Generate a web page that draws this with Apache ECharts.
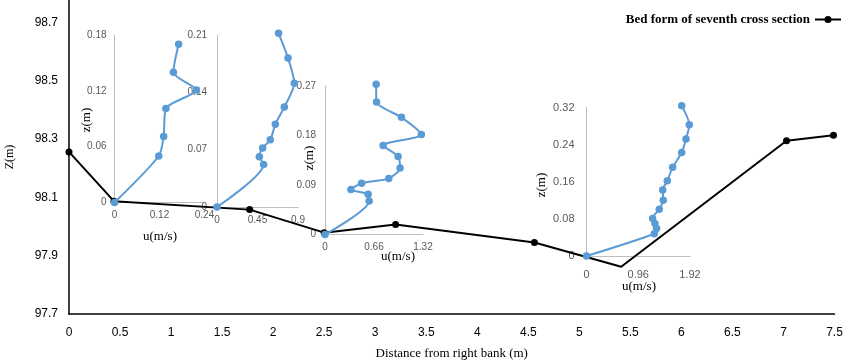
<!DOCTYPE html>
<html>
<head>
<meta charset="utf-8">
<script src="https://cdn.jsdelivr.net/npm/echarts@6/dist/echarts.min.js"></script>
<style>
  html, body { margin: 0; padding: 0; background: #fff; }
  #chart { width: 856px; height: 362px; }
</style>
</head>
<body>
<div id="chart"></div>
<script>
// bed form of the cross section (distance from right bank, elevation)
var bedX = [0, 0.44, 1.77, 2.5, 3.2, 4.56, 5.41, 7.03, 7.49];
var bedZ = [98.256, 98.087, 98.058, 97.979, 98.007, 97.945, 97.862, 98.294, 98.313];
var bedMark = [1, 1, 1, 1, 1, 1, 0, 1, 1];

// velocity profiles u(m/s) vs z(m)
var u1 = [0, 0.118, 0.131, 0.137, 0.218, 0.157, 0.171];
var z1 = [0, 0.050, 0.071, 0.101, 0.121, 0.140, 0.170];
var u2 = [0, 0.518, 0.47, 0.507, 0.592, 0.648, 0.748, 0.859, 0.789, 0.684];
var z2 = [0, 0.052, 0.0615, 0.072, 0.082, 0.101, 0.122, 0.151, 0.182, 0.212];
var u3 = [0, 0.595, 0.581, 0.349, 0.493, 0.859, 1.011, 0.984, 0.783, 1.298, 1.03, 0.694, 0.689];
var z3 = [0, 0.061, 0.073, 0.082, 0.093, 0.102, 0.121, 0.142, 0.162, 0.182, 0.213, 0.241, 0.273];
var u4 = [0, 1.257, 1.301, 1.27, 1.227, 1.35, 1.424, 1.413, 1.499, 1.598, 1.766, 1.846, 1.907, 1.766];
var z4 = [0, 0.048, 0.059, 0.070, 0.081, 0.101, 0.120, 0.142, 0.162, 0.191, 0.223, 0.252, 0.283, 0.324];

// axis ranges of each inset: [uMax, uStep, zMax, zStep]
var insetAxes = [
  [0.24, 0.12, 0.18, 0.06],
  [0.9, 0.45, 0.21, 0.07],
  [1.32, 0.66, 0.27, 0.09],
  [1.92, 0.96, 0.32, 0.08]
];

var chart = echarts.init(document.getElementById('chart'));

var serif = 'Liberation Serif';
var sans = 'Liberation Sans';
var blue = '#5b9bd5';

function zip (a, b) {
  return a.map(function (v, i) { return [v, b[i]]; });
}

// inset placement (pixels) and label settings
var insetGrids = [
  { left: 114.5, top: 35, width: 90, height: 167.5, fs: 10, ym: 8, xm: 8 },
  { left: 217, top: 35, width: 81, height: 172, fs: 10, ym: 10, xm: 8 },
  { left: 325, top: 86, width: 98, height: 148.5, fs: 10, ym: 9, xm: 8 },
  { left: 586.5, top: 107.5, width: 103.5, height: 148.5, fs: 11, ym: 12, xm: 13 }
];

var grids = [{ left: 69, top: 0, width: 765.5, height: 314, outerBoundsMode: 'none' }];
var xAxes = [{
  type: 'value', gridIndex: 0, min: 0, max: 7.5, interval: 0.5,
  name: 'Distance from right bank (m)', nameLocation: 'middle', nameGap: 33,
  nameTextStyle: { fontFamily: serif, fontSize: 13, color: '#000' },
  axisLine: { show: true, lineStyle: { color: '#000', width: 1.5 } },
  axisTick: { show: false },
  axisLabel: { fontFamily: sans, fontSize: 12, color: '#000', margin: 13 },
  splitLine: { show: false }
}];
var yAxes = [{
  type: 'value', gridIndex: 0, min: 97.7, max: 98.777, interval: 0.2,
  axisLine: { show: true, lineStyle: { color: '#000', width: 1.5 } },
  axisTick: { show: false },
  axisLabel: {
    fontFamily: sans, fontSize: 12, color: '#000', margin: 11, showMaxLabel: false,
    formatter: function (v) { return v.toFixed(1); }
  },
  splitLine: { show: false }
}];

insetGrids.forEach(function (g, i) {
  var ax = insetAxes[i];
  grids.push({ left: g.left, top: g.top, width: g.width, height: g.height, outerBoundsMode: 'none' });
  xAxes.push({
    type: 'value', gridIndex: i + 1, min: 0, max: ax[0], interval: ax[1],
    axisLine: { show: true, lineStyle: { color: '#bfbfbf', width: 1 } },
    axisTick: { show: false },
    axisLabel: { fontFamily: sans, fontSize: g.fs, color: '#595959', margin: g.xm },
    splitLine: { show: false }
  });
  yAxes.push({
    type: 'value', gridIndex: i + 1, min: 0, max: ax[2], interval: ax[3],
    axisLine: { show: true, lineStyle: { color: '#bfbfbf', width: 1 } },
    axisTick: { show: false },
    axisLabel: { fontFamily: sans, fontSize: g.fs, color: '#595959', margin: g.ym },
    splitLine: { show: false }
  });
});

var bedData = bedX.map(function (x, i) {
  return { value: [x, bedZ[i]], symbolSize: bedMark[i] ? 7 : 0 };
});

var profiles = [[u1, z1], [u2, z2], [u3, z3], [u4, z4]];
var series = [{
  name: 'Bed form of seventh cross section',
  type: 'line', xAxisIndex: 0, yAxisIndex: 0,
  data: bedData,
  symbol: 'circle', symbolSize: 7,
  lineStyle: { color: '#000', width: 2 },
  itemStyle: { color: '#000' },
  clip: false, z: 2
}];
profiles.forEach(function (p, i) {
  series.push({
    type: 'line', xAxisIndex: i + 1, yAxisIndex: i + 1,
    data: zip(p[0], p[1]),
    smooth: 0.25,
    symbol: 'circle', symbolSize: 7.5,
    lineStyle: { color: blue, width: 2 },
    itemStyle: { color: blue },
    clip: false, z: 3
  });
});

function label (text, x, y, size, rot) {
  return {
    type: 'text', x: x, y: y, rotation: rot ? Math.PI / 2 : 0, z: 10,
    style: {
      text: text, fill: '#000', font: size + 'px "' + serif + '"',
      textAlign: 'center', textVerticalAlign: 'middle'
    }
  };
}

chart.setOption({
  animation: false,
  backgroundColor: '#fff',
  legend: {
    data: ['Bed form of seventh cross section'],
    right: 9, top: 8, align: 'right',
    itemWidth: 26, itemHeight: 9, itemGap: 5,
    textStyle: { fontFamily: serif, fontWeight: 'bold', fontSize: 13, color: '#000' }
  },
  grid: grids,
  xAxis: xAxes,
  yAxis: yAxes,
  series: series,
  graphic: [
    label('Z(m)', 10, 157, 12, true),
    label('z(m)', 87, 120, 13, true),
    label('u(m/s)', 160, 237, 13, false),
    label('z(m)', 310, 158, 13, true),
    label('u(m/s)', 398, 257, 13, false),
    label('z(m)', 542, 185, 13, true),
    label('u(m/s)', 639, 287, 13, false)
  ]
});
</script>
</body>
</html>
